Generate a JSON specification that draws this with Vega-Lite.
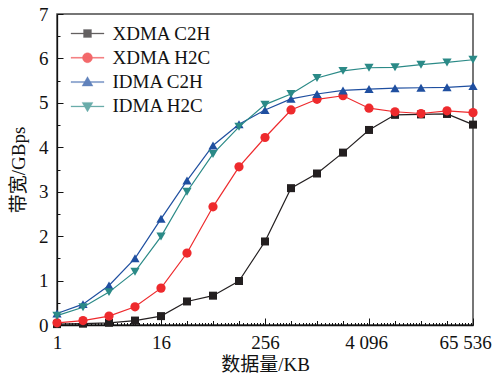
{
  "$schema": "https://vega.github.io/schema/vega-lite/v6.json",
  "width": 416,
  "height": 311,
  "autosize": {"type": "none"},
  "padding": {"left": 57, "top": 14, "right": 23, "bottom": 53},
  "background": "white",
  "config": {
    "view": {"stroke": "#4a4a4a", "strokeWidth": 1.5},
    "font": "Liberation Serif",
    "axis": {
      "domainColor": "#111111",
      "domainWidth": 1.3,
      "tickColor": "#111111",
      "tickWidth": 1,
      "grid": false,
      "labelFont": "Liberation Serif",
      "labelFontSize": 19,
      "labelColor": "#111111",
      "titleFont": "Liberation Serif, Noto Sans CJK SC",
      "titleFontSize": 19,
      "titleFontWeight": "normal",
      "titleColor": "#111111"
    },
    "legend": {
      "labelFont": "Liberation Serif",
      "labelFontSize": 19,
      "labelColor": "#111111",
      "padding": 0,
      "rowPadding": 4.3,
      "title": null
    }
  },
  "data": {
    "values": [
      {"size": 1, "series": "XDMA C2H", "bw": 0.02},
      {"size": 2, "series": "XDMA C2H", "bw": 0.03},
      {"size": 4, "series": "XDMA C2H", "bw": 0.05},
      {"size": 8, "series": "XDMA C2H", "bw": 0.1},
      {"size": 16, "series": "XDMA C2H", "bw": 0.2},
      {"size": 32, "series": "XDMA C2H", "bw": 0.53},
      {"size": 64, "series": "XDMA C2H", "bw": 0.66},
      {"size": 128, "series": "XDMA C2H", "bw": 0.99},
      {"size": 256, "series": "XDMA C2H", "bw": 1.88},
      {"size": 512, "series": "XDMA C2H", "bw": 3.08},
      {"size": 1024, "series": "XDMA C2H", "bw": 3.41},
      {"size": 2048, "series": "XDMA C2H", "bw": 3.88},
      {"size": 4096, "series": "XDMA C2H", "bw": 4.39},
      {"size": 8192, "series": "XDMA C2H", "bw": 4.73},
      {"size": 16384, "series": "XDMA C2H", "bw": 4.74},
      {"size": 32768, "series": "XDMA C2H", "bw": 4.75},
      {"size": 65536, "series": "XDMA C2H", "bw": 4.51},
      {"size": 1, "series": "XDMA H2C", "bw": 0.05},
      {"size": 2, "series": "XDMA H2C", "bw": 0.1},
      {"size": 4, "series": "XDMA H2C", "bw": 0.2},
      {"size": 8, "series": "XDMA H2C", "bw": 0.41},
      {"size": 16, "series": "XDMA H2C", "bw": 0.83},
      {"size": 32, "series": "XDMA H2C", "bw": 1.62},
      {"size": 64, "series": "XDMA H2C", "bw": 2.66},
      {"size": 128, "series": "XDMA H2C", "bw": 3.56},
      {"size": 256, "series": "XDMA H2C", "bw": 4.22},
      {"size": 512, "series": "XDMA H2C", "bw": 4.84},
      {"size": 1024, "series": "XDMA H2C", "bw": 5.08},
      {"size": 2048, "series": "XDMA H2C", "bw": 5.16},
      {"size": 4096, "series": "XDMA H2C", "bw": 4.88},
      {"size": 8192, "series": "XDMA H2C", "bw": 4.8},
      {"size": 16384, "series": "XDMA H2C", "bw": 4.76},
      {"size": 32768, "series": "XDMA H2C", "bw": 4.82},
      {"size": 65536, "series": "XDMA H2C", "bw": 4.78},
      {"size": 1, "series": "IDMA C2H", "bw": 0.26},
      {"size": 2, "series": "IDMA C2H", "bw": 0.47},
      {"size": 4, "series": "IDMA C2H", "bw": 0.89},
      {"size": 8, "series": "IDMA C2H", "bw": 1.5},
      {"size": 16, "series": "IDMA C2H", "bw": 2.39},
      {"size": 32, "series": "IDMA C2H", "bw": 3.25},
      {"size": 64, "series": "IDMA C2H", "bw": 4.04},
      {"size": 128, "series": "IDMA C2H", "bw": 4.52},
      {"size": 256, "series": "IDMA C2H", "bw": 4.84},
      {"size": 512, "series": "IDMA C2H", "bw": 5.09},
      {"size": 1024, "series": "IDMA C2H", "bw": 5.2},
      {"size": 2048, "series": "IDMA C2H", "bw": 5.28},
      {"size": 4096, "series": "IDMA C2H", "bw": 5.31},
      {"size": 8192, "series": "IDMA C2H", "bw": 5.33},
      {"size": 16384, "series": "IDMA C2H", "bw": 5.34},
      {"size": 32768, "series": "IDMA C2H", "bw": 5.35},
      {"size": 65536, "series": "IDMA C2H", "bw": 5.38},
      {"size": 1, "series": "IDMA H2C", "bw": 0.21},
      {"size": 2, "series": "IDMA H2C", "bw": 0.4},
      {"size": 4, "series": "IDMA H2C", "bw": 0.74},
      {"size": 8, "series": "IDMA H2C", "bw": 1.2},
      {"size": 16, "series": "IDMA H2C", "bw": 1.99},
      {"size": 32, "series": "IDMA H2C", "bw": 3.0},
      {"size": 64, "series": "IDMA H2C", "bw": 3.85},
      {"size": 128, "series": "IDMA H2C", "bw": 4.46},
      {"size": 256, "series": "IDMA H2C", "bw": 4.96},
      {"size": 512, "series": "IDMA H2C", "bw": 5.2},
      {"size": 1024, "series": "IDMA H2C", "bw": 5.56},
      {"size": 2048, "series": "IDMA H2C", "bw": 5.72},
      {"size": 4096, "series": "IDMA H2C", "bw": 5.79},
      {"size": 8192, "series": "IDMA H2C", "bw": 5.8},
      {"size": 16384, "series": "IDMA H2C", "bw": 5.86},
      {"size": 32768, "series": "IDMA H2C", "bw": 5.91},
      {"size": 65536, "series": "IDMA H2C", "bw": 5.97}
    ]
  },
  "resolve": {"axis": {"x": "independent", "y": "independent"}},
  "layer": [
    {
      "mark": {"type": "point", "filled": true, "size": 0},
      "encoding": {
        "x": {
          "field": "size", "type": "quantitative",
          "scale": {"type": "log", "base": 2, "domain": [1, 65536], "nice": false},
          "axis": {
            "orient": "bottom", "title": null, "labels": false, "domain": false,
            "values": [1, 16, 256, 4096, 65536],
            "offset": -7, "tickSize": 7
          }
        },
        "y": {
          "field": "bw", "type": "quantitative",
          "scale": {"domain": [0, 7], "nice": false},
          "axis": {
            "orient": "left", "title": null, "labels": false, "domain": false,
            "values": [0, 1, 2, 3, 4, 5, 6, 7],
            "offset": -6, "tickSize": 6
          }
        },
        "color": {
          "field": "series", "type": "nominal",
          "scale": {
            "domain": ["XDMA C2H", "XDMA H2C", "IDMA C2H", "IDMA H2C"],
            "range": ["#231f20", "#ee2a2d", "#1f4fa0", "#2b8a87"]
          },
          "legend": {
            "orient": "none",
            "legendX": 21,
            "legendY": 10,
            "symbolSize": 100,
            "symbolStrokeWidth": 0.3,
            "labelOffset": 15.5
          }
        },
        "shape": {
          "field": "series", "type": "nominal",
          "scale": {
            "domain": ["XDMA C2H", "XDMA H2C", "IDMA C2H", "IDMA H2C"],
            "range": [
              "M-3.3,-0.1L3.3,-0.1L3.3,0.1L-3.3,0.1ZM-0.8,-0.8L0.8,-0.8L0.8,0.8L-0.8,0.8Z",
              "M-3.3,-0.1L3.3,-0.1L3.3,0.1L-3.3,0.1ZM-1,0A1,1 0 1,1 1,0A1,1 0 1,1 -1,0Z",
              "M-3.3,-0.1L3.3,-0.1L3.3,0.1L-3.3,0.1ZM0,-1.1L1.1,0.8L-1.1,0.8Z",
              "M-3.3,-0.1L3.3,-0.1L3.3,0.1L-3.3,0.1ZM0,1.1L-1.1,-0.8L1.1,-0.8Z"
            ]
          },
          "legend": {
            "orient": "none",
            "legendX": 21,
            "legendY": 10,
            "symbolSize": 100,
            "symbolStrokeWidth": 0.3,
            "labelOffset": 15.5
          }
        }
      }
    },
    {
      "mark": {"type": "line", "strokeWidth": 1.2},
      "encoding": {
        "x": {
          "field": "size", "type": "quantitative",
          "axis": {
            "orient": "bottom",
            "title": "数据量/KB",
            "titlePadding": 3,
            "values": [1, 16, 256, 4096, 65536],
            "labelExpr": "datum.value == 4096 ? '4 096' : datum.value == 65536 ? '65 536' : '' + datum.value",
            "labelOffset": {"condition": [{"test": "datum.value == 65536", "value": -8}, {"test": "datum.value == 4096", "value": -3}], "value": 0},
            "ticks": false,
            "labelPadding": 8,
            "labelFlush": false,
            "labelOverlap": false
          }
        },
        "y": {
          "field": "bw", "type": "quantitative",
          "axis": {
            "orient": "left",
            "title": "带宽/GBps",
            "titlePadding": 10,
            "values": [0, 1, 2, 3, 4, 5, 6, 7],
            "ticks": false,
            "labelPadding": 9,
            "labelFlush": false,
            "labelOverlap": false
          }
        },
        "color": {"field": "series", "type": "nominal"}
      }
    },
    {
      "transform": [{"filter": "datum.series == 'XDMA C2H'"}],
      "mark": {"type": "point", "filled": true, "opacity": 1, "size": 64, "shape": "square"},
      "encoding": {
        "x": {
          "field": "size", "type": "quantitative",
          "axis": {
            "orient": "bottom", "title": null, "labels": false, "domain": false,
            "values": [2, 4, 8, 32, 64, 128, 512, 1024, 2048, 8192, 16384, 32768],
            "offset": -4.5, "tickSize": 4.5
          }
        },
        "y": {
          "field": "bw", "type": "quantitative",
          "axis": {
            "orient": "left", "title": null, "labels": false, "domain": false,
            "values": [0.5, 1.5, 2.5, 3.5, 4.5, 5.5, 6.5],
            "offset": -3, "tickSize": 3
          }
        },
        "color": {"field": "series", "type": "nominal"}
      }
    },
    {
      "transform": [{"filter": "datum.series == 'XDMA H2C'"}],
      "mark": {"type": "point", "filled": true, "opacity": 1, "size": 85, "shape": "circle"},
      "encoding": {
        "x": {
          "field": "size", "type": "quantitative",
          "axis": {
            "orient": "bottom", "title": null, "labels": false, "domain": false,
            "values": [1.125, 1.25, 1.375, 1.5, 1.625, 1.75, 1.875,
                       2.25, 2.5, 2.75, 3, 3.25, 3.5, 3.75,
                       4.5, 5, 5.5, 6, 6.5, 7, 7.5,
                       9, 10, 11, 12, 13, 14, 15,
                       18, 20, 22, 24, 26, 28, 30,
                       36, 40, 44, 48, 52, 56, 60,
                       72, 80, 88, 96, 104, 112, 120,
                       144, 160, 176, 192, 208, 224, 240,
                       288, 320, 352, 384, 416, 448, 480,
                       576, 640, 704, 768, 832, 896, 960,
                       1152, 1280, 1408, 1536, 1664, 1792, 1920,
                       2304, 2560, 2816, 3072, 3328, 3584, 3840,
                       4608, 5120, 5632, 6144, 6656, 7168, 7680,
                       9216, 10240, 11264, 12288, 13312, 14336, 15360,
                       18432, 20480, 22528, 24576, 26624, 28672, 30720,
                       36864, 40960, 45056, 49152, 53248, 57344, 61440],
            "offset": -2.5, "tickSize": 2.5
          }
        },
        "y": {"field": "bw", "type": "quantitative", "axis": null},
        "color": {"field": "series", "type": "nominal"}
      }
    },
    {
      "transform": [{"filter": "datum.series == 'IDMA C2H'"}],
      "mark": {"type": "point", "filled": true, "opacity": 1, "size": 85, "shape": "triangle-up"},
      "encoding": {
        "x": {"field": "size", "type": "quantitative", "axis": null},
        "y": {"field": "bw", "type": "quantitative", "axis": null},
        "color": {"field": "series", "type": "nominal"}
      }
    },
    {
      "transform": [{"filter": "datum.series == 'IDMA H2C'"}],
      "mark": {"type": "point", "filled": true, "opacity": 1, "size": 85, "shape": "triangle-down"},
      "encoding": {
        "x": {"field": "size", "type": "quantitative", "axis": null},
        "y": {"field": "bw", "type": "quantitative", "axis": null},
        "color": {"field": "series", "type": "nominal"}
      }
    }
  ]
}
